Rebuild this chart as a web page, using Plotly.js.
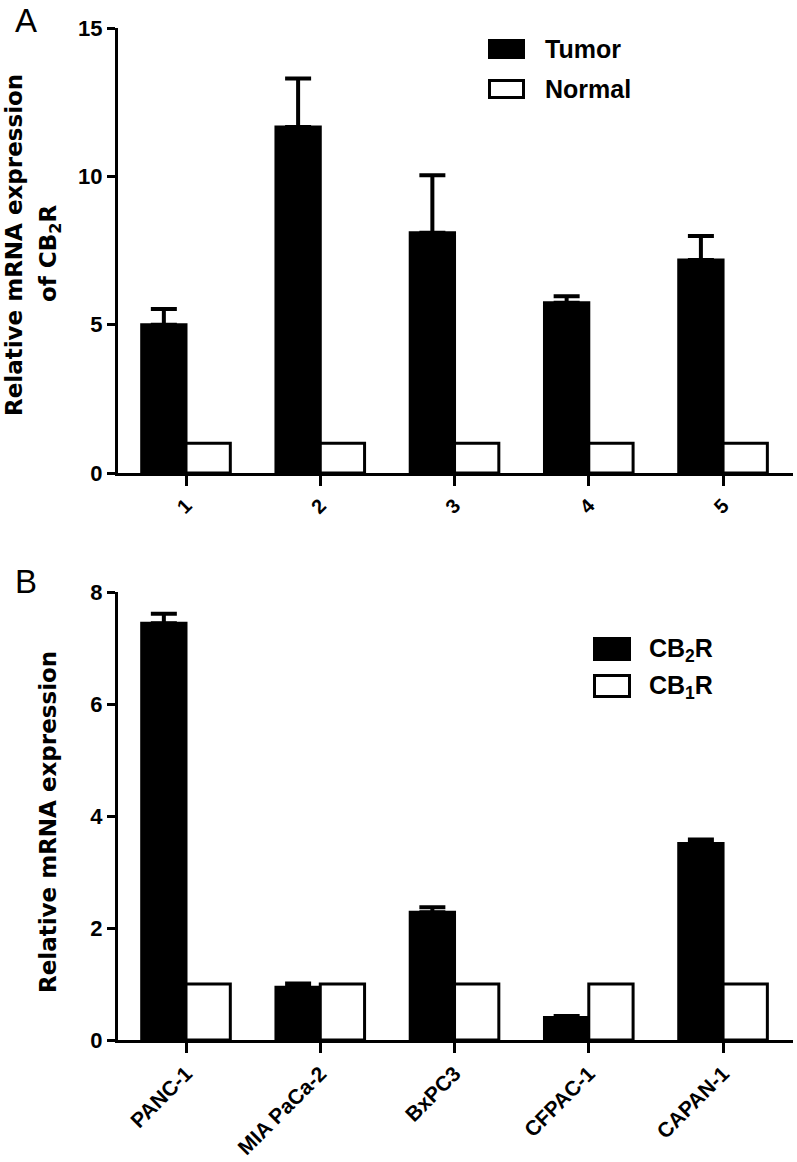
<!DOCTYPE html>
<html>
<head>
<meta charset="utf-8">
<script src="https://cdn.plot.ly/plotly-3.0.1.min.js"></script>
<style>html,body{margin:0;padding:0;background:#fff;}#chart{width:797px;height:1162px;}</style>
</head>
<body>
<div id="chart"></div>
<script>
// ---- Data (panel A) ----
const samplesA = ["1", "2", "3", "4", "5"];
const tumor = [5.0, 11.66, 8.1, 5.74, 7.18];
const tumorErr = [0.53, 1.64, 1.94, 0.22, 0.81];
const normal = [1, 1, 1, 1, 1];

// ---- Data (panel B) ----
const cellLines = ["PANC-1", "MIA PaCa-2", "BxPC3", "CFPAC-1", "CAPAN-1"];
const cb2r = [7.44, 0.94, 2.28, 0.40, 3.51];
const cb2rErr = [0.17, 0.07, 0.09, 0.03, 0.07];
const cb1r = [1, 1, 1, 1, 1];

const yTicksA = [0, 5, 10, 15];
const yTicksB = [0, 2, 4, 6, 8];

// ---- layout helpers (pixel -> paper) ----
const W = 797, H = 1162, ML = 118, MR = 4, MT = 28, MB = 122;
const PW = W - ML - MR, PH = H - MT - MB;
const px = x => (x - ML) / PW;
const py = y => (H - MB - y) / PH;

const TICKFONT = "Liberation Sans, Arial, sans-serif";
const TITLEFONT = "DejaVu Sans, sans-serif";

function errObj(arr) {
  return {type: "data", array: arr, arrayminus: arr.map(() => 0), symmetric: false,
          visible: true, color: "#000", thickness: 4, width: 13};
}

const barLine = {color: "#000", width: 3};

const traces = [
  {type: "bar", x: samplesA, y: tumor, name: "Tumor", xaxis: "x", yaxis: "y",
   marker: {color: "#000", line: barLine}, error_y: errObj(tumorErr), showlegend: false},
  {type: "bar", x: samplesA, y: normal, name: "Normal", xaxis: "x", yaxis: "y",
   marker: {color: "#fff", line: barLine}, showlegend: false},
  {type: "bar", x: cellLines, y: cb2r, name: "CB2R", xaxis: "x2", yaxis: "y2",
   marker: {color: "#000", line: barLine}, error_y: errObj(cb2rErr), showlegend: false},
  {type: "bar", x: cellLines, y: cb1r, name: "CB1R", xaxis: "x2", yaxis: "y2",
   marker: {color: "#fff", line: barLine}, showlegend: false}
];

const xBase = {
  type: "category",
  showline: true, linewidth: 3, linecolor: "#000", showgrid: false, zeroline: false,
  ticks: "outside", ticklen: 10, tickwidth: 3, tickcolor: "#000", tickangle: -45,
  range: [-0.5065, 4.521], fixedrange: true
};
const yBase = {
  showline: true, linewidth: 3, linecolor: "#000", showgrid: false, zeroline: false,
  ticks: "outside", ticklen: 8, tickwidth: 3, tickcolor: "#000", fixedrange: true,
  tickfont: {family: TICKFONT, size: 22, color: "#000", weight: "bold"}
};

const domTop = [py(473), 1];
const domBot = [0, py(592)];

const layout = {
  width: W, height: H,
  margin: {l: ML, r: MR, t: MT, b: MB},
  paper_bgcolor: "#fff", plot_bgcolor: "#fff",
  barmode: "group", bargap: 0.34, bargroupgap: 0,
  showlegend: false,
  xaxis: Object.assign({}, xBase, {anchor: "y", domain: [0, 1],
    tickfont: {family: TICKFONT, size: 20, color: "#000", weight: "bold"}}),
  yaxis: Object.assign({}, yBase, {anchor: "x", domain: domTop, range: [0, 15],
    tickvals: yTicksA, ticktext: yTicksA.map(String)}),
  xaxis2: Object.assign({}, xBase, {anchor: "y2", domain: [0, 1],
    tickfont: {family: TICKFONT, size: 21, color: "#000", weight: "bold"}}),
  yaxis2: Object.assign({}, yBase, {anchor: "x2", domain: domBot, range: [0, 8],
    tickvals: yTicksB, ticktext: yTicksB.map(String)}),
  shapes: [
    {type: "rect", xref: "paper", yref: "paper", x0: px(489.5), x1: px(523.5), y0: py(57.5), y1: py(40.5),
     fillcolor: "#000", line: {color: "#000", width: 3}},
    {type: "rect", xref: "paper", yref: "paper", x0: px(489.5), x1: px(523.5), y0: py(97.5), y1: py(80.5),
     fillcolor: "#fff", line: {color: "#000", width: 3}},
    {type: "rect", xref: "paper", yref: "paper", x0: px(594.5), x1: px(629.5), y0: py(659.5), y1: py(638.5),
     fillcolor: "#000", line: {color: "#000", width: 3}},
    {type: "rect", xref: "paper", yref: "paper", x0: px(594.5), x1: px(629.5), y0: py(696.5), y1: py(675.5),
     fillcolor: "#fff", line: {color: "#000", width: 3}}
  ],
  annotations: [
    {text: "A", xref: "paper", yref: "paper", x: px(13), y: py(20), xanchor: "left", yanchor: "middle",
     showarrow: false, font: {family: TICKFONT, size: 33, color: "#000"}},
    {text: "B", xref: "paper", yref: "paper", x: px(13), y: py(581), xanchor: "left", yanchor: "middle",
     showarrow: false, font: {family: TICKFONT, size: 33, color: "#000"}},
    {text: "Relative mRNA expression", xref: "paper", yref: "paper", x: px(14), y: py(245),
     xanchor: "center", yanchor: "middle", textangle: -90, showarrow: false,
     font: {family: TITLEFONT, size: 23, color: "#000", weight: "bold"}},
    {text: "of CB<sub>2</sub>R", xref: "paper", yref: "paper", x: px(50), y: py(254),
     xanchor: "center", yanchor: "middle", textangle: -90, showarrow: false,
     font: {family: TITLEFONT, size: 23, color: "#000", weight: "bold"}},
    {text: "Relative mRNA expression", xref: "paper", yref: "paper", x: px(48), y: py(822),
     xanchor: "center", yanchor: "middle", textangle: -90, showarrow: false,
     font: {family: TITLEFONT, size: 23, color: "#000", weight: "bold"}},
    {text: "Tumor", xref: "paper", yref: "paper", x: px(543), y: py(49), xanchor: "left", yanchor: "middle",
     showarrow: false, font: {family: TICKFONT, size: 25, color: "#000", weight: "bold"}},
    {text: "Normal", xref: "paper", yref: "paper", x: px(543), y: py(89), xanchor: "left", yanchor: "middle",
     showarrow: false, font: {family: TICKFONT, size: 25, color: "#000", weight: "bold"}},
    {text: "CB<sub>2</sub>R", xref: "paper", yref: "paper", x: px(647), y: py(650), xanchor: "left", yanchor: "middle",
     showarrow: false, font: {family: TICKFONT, size: 25, color: "#000", weight: "bold"}},
    {text: "CB<sub>1</sub>R", xref: "paper", yref: "paper", x: px(647), y: py(687), xanchor: "left", yanchor: "middle",
     showarrow: false, font: {family: TICKFONT, size: 25, color: "#000", weight: "bold"}}
  ]
};

Plotly.newPlot("chart", traces, layout, {staticPlot: true, displayModeBar: false});
</script>
</body>
</html>
